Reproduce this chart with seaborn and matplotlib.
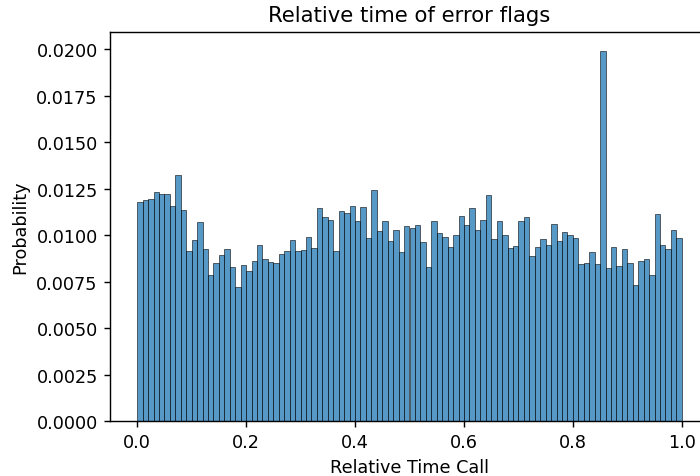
import numpy as np
import pandas as pd
import matplotlib
matplotlib.use("Agg")
import matplotlib.pyplot as plt
import seaborn as sns

# probability per bin, 100 equal bins over [0, 1]
bin_probs = [
    0.01176, 0.01187, 0.01196, 0.01230, 0.01221, 0.01221, 0.01155, 0.01323, 0.01135, 0.00915,
    0.00973, 0.01072, 0.00925, 0.00783, 0.00851, 0.00890, 0.00926, 0.00829, 0.00723, 0.00838,
    0.00808, 0.00858, 0.00948, 0.00869, 0.00856, 0.00851, 0.00896, 0.00912, 0.00975, 0.00914,
    0.00921, 0.00991, 0.00930, 0.01144, 0.01095, 0.01079, 0.00912, 0.01128, 0.01120, 0.01155,
    0.01077, 0.01149, 0.00982, 0.01241, 0.01022, 0.01077, 0.00968, 0.01025, 0.00908, 0.01049,
    0.01040, 0.01054, 0.00961, 0.00826, 0.01075, 0.01012, 0.00988, 0.00935, 0.01000, 0.01101,
    0.01054, 0.01144, 0.01029, 0.01081, 0.01217, 0.00980, 0.01074, 0.01000, 0.00932, 0.00943,
    0.01077, 0.01095, 0.00889, 0.00934, 0.00977, 0.00946, 0.01059, 0.00966, 0.01014, 0.00998,
    0.00986, 0.00844, 0.00847, 0.00910, 0.00842, 0.01992, 0.00822, 0.00935, 0.00833, 0.00925,
    0.00849, 0.00729, 0.00858, 0.00869, 0.00783, 0.01112, 0.00946, 0.00925, 0.01025, 0.00986,
]
n_bins = len(bin_probs)
bin_centers = (np.arange(n_bins) + 0.5) / n_bins

df = pd.DataFrame({"rel_time": bin_centers, "prob": bin_probs})

s = 1.27  # original was rendered larger and scaled down
plt.rcParams.update({
    "font.size": 10 * s,
    "axes.linewidth": 0.8 * s,
    "axes.titlepad": 6 * s,
    "axes.labelpad": 4 * s,
    "xtick.major.width": 0.8 * s,
    "ytick.major.width": 0.8 * s,
    "xtick.major.size": 3.5 * s,
    "ytick.major.size": 3.5 * s,
    "xtick.major.pad": 3.5 * s,
    "ytick.major.pad": 3.5 * s,
})

fig = plt.figure(figsize=(7, 4.77), dpi=100)
ax = fig.add_axes([110 / 700, 55 / 477, 599 / 700, 389 / 477])

sns.histplot(data=df, x="rel_time", weights="prob", bins=n_bins, binrange=(0, 1),
             stat="count", ax=ax)
ax.set_title("Relative time of error flags", fontsize=12 * s)
ax.set_xlabel("Relative Time Call")
ax.set_ylabel("Probability")

fig.savefig("out.png", dpi=100)
